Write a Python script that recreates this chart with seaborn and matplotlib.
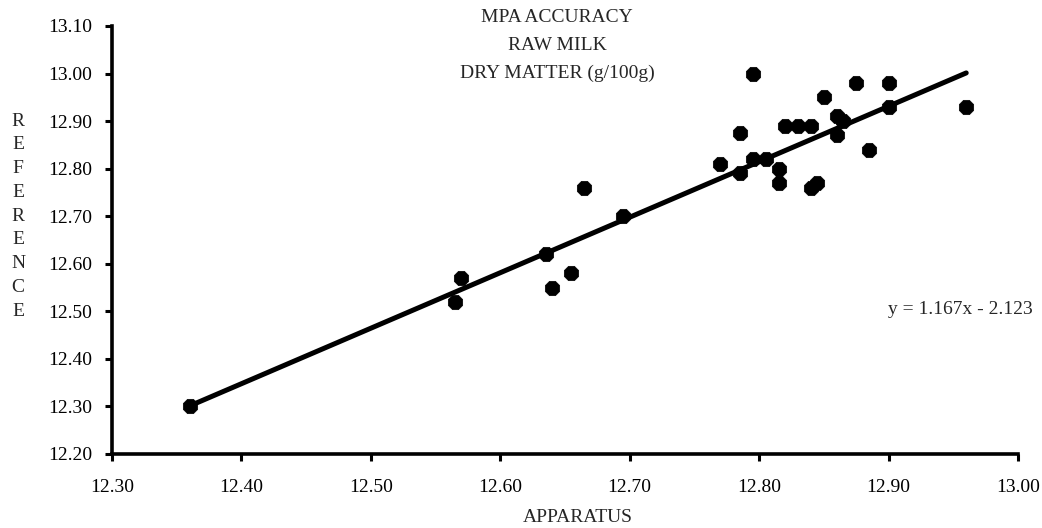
import numpy as np
import pandas as pd
import seaborn as sns
import matplotlib
matplotlib.use("Agg")
import matplotlib.pyplot as plt

# ---- data ----
apparatus = [12.36, 12.565, 12.57, 12.635, 12.64, 12.655, 12.665, 12.695,
             12.77, 12.785, 12.785, 12.795, 12.795, 12.805, 12.815, 12.815,
             12.82, 12.83, 12.84, 12.84, 12.845, 12.85, 12.86, 12.865,
             12.86, 12.875, 12.885, 12.90, 12.90, 12.96]
reference = [12.30, 12.52, 12.57, 12.62, 12.55, 12.58, 12.76, 12.70,
             12.81, 12.875, 12.79, 13.00, 12.82, 12.82, 12.80, 12.77,
             12.89, 12.89, 12.89, 12.76, 12.77, 12.95, 12.91, 12.90,
             12.87, 12.98, 12.84, 12.98, 12.93, 12.93]
slope = 1.167
intercept = -2.123
x_ticks = [12.30, 12.40, 12.50, 12.60, 12.70, 12.80, 12.90, 13.00]
y_ticks = [12.20, 12.30, 12.40, 12.50, 12.60, 12.70, 12.80, 12.90, 13.00, 13.10]
title_lines = ["MPA ACCURACY", "RAW MILK", "DRY MATTER (g/100g)"]
x_label = "APPARATUS"
y_label = "REFERENCE"

df = pd.DataFrame({"APPARATUS": apparatus, "REFERENCE": reference})
line_x = np.array([min(apparatus), max(apparatus)])
line_df = pd.DataFrame({"x": line_x, "y": slope * line_x + intercept})

sns.set_theme(style="ticks")
plt.rcParams["font.family"] = ["Liberation Serif", "DejaVu Serif"]

W, H = 1042, 528
fig = plt.figure(figsize=(W / 100, H / 100), dpi=100)
ax = fig.add_axes([112 / W, 1 - 454 / H, (1018 - 112) / W, (454 - 26) / H])

sns.lineplot(data=line_df, x="x", y="y", color="black", linewidth=3.6, ax=ax,
             zorder=2)
sns.scatterplot(data=df, x="APPARATUS", y="REFERENCE", ax=ax, color="black",
                marker="8", s=125, edgecolor="black", linewidth=0.5, zorder=3)

ax.set_xlim(x_ticks[0], x_ticks[-1])
ax.set_ylim(y_ticks[0], y_ticks[-1])
ax.set_xticks(x_ticks)
ax.set_yticks(y_ticks)
ax.set_xticklabels([f"{v:.2f}" for v in x_ticks])
ax.set_yticklabels([f"{v:.2f}" for v in y_ticks])

for s in ["top", "right"]:
    ax.spines[s].set_visible(False)
for s in ["left", "bottom"]:
    ax.spines[s].set_linewidth(2.6)
    ax.spines[s].set_color("black")

ax.tick_params(axis="both", direction="out", length=5, width=2.2,
               colors="black", labelsize=14)
ax.tick_params(axis="x", pad=13)
ax.tick_params(axis="y", pad=9)

ax.set_xlabel(x_label, fontsize=14)
ax.xaxis.set_label_coords((578 - 112) / 906, (454 - 518) / 428)
ax.xaxis.label.set_va("center")
ax.set_ylabel("")

# stacked vertical axis title, one letter per line
for i, ch in enumerate(y_label):
    fig.text(18 / W, 1 - (121 + i * 23.75) / H, ch, ha="center", va="center",
             fontsize=14)

for i, line in enumerate(title_lines):
    fig.text(557 / W, 1 - (18 + i * 27.5) / H, line, ha="center", va="center",
             fontsize=14)

fig.text(1033 / W, 1 - 309 / H, f"y = {slope:.3f}x - {abs(intercept):.3f}",
         ha="right", va="center", fontsize=14)

fig.savefig("out.png", dpi=100, facecolor="white")
